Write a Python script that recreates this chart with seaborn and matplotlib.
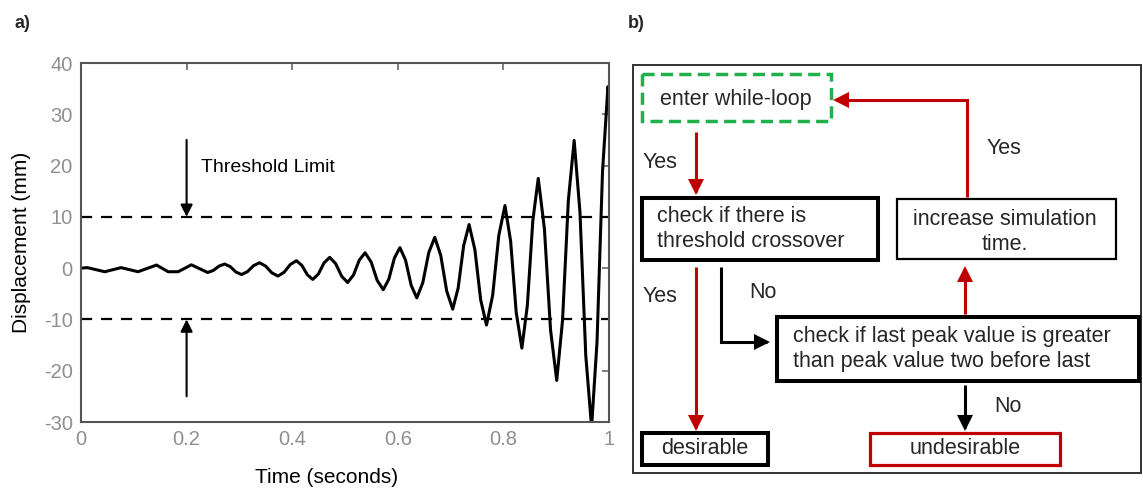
import matplotlib
matplotlib.use("Agg")
import matplotlib.pyplot as plt
import seaborn as sns
import pandas as pd
from matplotlib.patches import Rectangle, FancyArrowPatch
from matplotlib.path import Path

# ---------------- data ----------------
time_s = [0.0, 0.012, 0.045, 0.076, 0.108, 0.143, 0.165, 0.184, 0.209, 0.240,
          0.2507, 0.2613, 0.272, 0.2827, 0.2933, 0.304, 0.3153, 0.3267, 0.338,
          0.3497, 0.3613, 0.373, 0.3847, 0.3963, 0.408, 0.4183, 0.4287, 0.439,
          0.4497, 0.4603, 0.471, 0.4823, 0.4937, 0.505, 0.516, 0.527, 0.538,
          0.5495, 0.561, 0.5725, 0.583, 0.5935, 0.604, 0.6147, 0.6253, 0.636,
          0.6473, 0.6587, 0.670, 0.6813, 0.6927, 0.704, 0.7143, 0.7247, 0.735,
          0.746, 0.757, 0.768, 0.7797, 0.7913, 0.803, 0.8137, 0.8243, 0.835,
          0.8453, 0.8557, 0.866, 0.8777, 0.8893, 0.901, 0.912, 0.923, 0.934,
          0.945, 0.956, 0.967, 0.9773, 0.9877, 0.998, 1.0]
displacement_mm = [0.0, 0.1, -0.7, 0.1, -0.7, 0.6, -0.7, -0.7, 0.65, -0.85,
                   -0.44, 0.39, 0.8, 0.29, -0.74, -1.25, -0.68, 0.48, 1.05,
                   0.40, -0.90, -1.55, -0.80, 0.70, 1.45, 0.54, -1.29, -2.2,
                   -1.13, 1.03, 2.1, 0.88, -1.58, -2.8, -1.35, 1.55, 3.0,
                   1.2, -2.4, -4.2, -2.15, 1.95, 4.0, 1.55, -3.35, -5.8,
                   -2.85, 3.05, 6.0, 2.5, -4.5, -8.0, -3.88, 4.38, 8.5,
                   3.6, -6.2, -11.1, -5.28, 6.38, 12.2, 5.25, -8.65, -15.6,
                   -7.33, 9.23, 17.5, 7.65, -12.05, -21.9, -10.2, 13.2, 24.9,
                   10.93, -17.03, -31.0, -14.4, 18.8, 35.4, 33.5]
threshold_levels = [10, -10]
x_ticks = [0, 0.2, 0.4, 0.6, 0.8, 1.0]
x_tick_labels = ["0", "0.2", "0.4", "0.6", "0.8", "1"]
y_ticks = [-30, -20, -10, 0, 10, 20, 30, 40]
y_tick_labels = ["-30", "-20", "-10", "0", "10", "20", "30", "40"]

# ---------------- style ----------------
sns.set_theme(style="white")
plt.rcParams["font.family"] = ["Liberation Sans", "DejaVu Sans"]

W, H = 1143, 488
fig = plt.figure(figsize=(W / 100, H / 100), dpi=100)

def fig_rect(x0, y0, x1, y1):
    return [x0 / W, 1 - y1 / H, (x1 - x0) / W, (y1 - y0) / H]

# ---------------- panel a ----------------
ax = fig.add_axes(fig_rect(81, 63, 609, 422))
df = pd.DataFrame({"t": time_s, "d": displacement_mm})
sns.lineplot(data=df, x="t", y="d", ax=ax, color="black", lw=2.2,
             solid_joinstyle="round")
for lvl in threshold_levels:
    ax.axhline(lvl, color="black", lw=1.6, ls=(0, (5, 4)))

ax.set_xlim(0, 1)
ax.set_ylim(-30, 40)
ax.set_xticks(x_ticks)
ax.set_xticklabels(x_tick_labels)
ax.set_yticks(y_ticks)
ax.set_yticklabels(y_tick_labels)
ax.tick_params(direction="in", length=5, width=1.2, color="#666666",
               labelcolor="#8f8f8f", labelsize=14.5, top=True, right=True,
               pad=6)
for s in ax.spines.values():
    s.set_color("#555555")
    s.set_linewidth(1.5)
ax.set_xlabel("Time (seconds)", fontsize=15, color="black")
ax.set_ylabel("Displacement (mm)", fontsize=15, color="black")
ax.xaxis.set_label_coords((327 - 81) / 528, -0.128)
ax.yaxis.set_label_coords(-0.095, 0.5)

arrow_kw = dict(arrowstyle="-|>", color="black", lw=1.5, mutation_scale=18,
                shrinkA=0, shrinkB=0)
ax.annotate("", xy=(0.2, 10), xytext=(0.2, 25), arrowprops=arrow_kw)
ax.annotate("", xy=(0.2, -10), xytext=(0.2, -25), arrowprops=arrow_kw)
ax.text(0.228, 19.6, "Threshold Limit", fontsize=14, va="center", ha="left",
        color="black")

# ---------------- overlay (labels + flowchart) ----------------
fc = fig.add_axes([0, 0, 1, 1])
fc.set_xlim(0, W)
fc.set_ylim(H, 0)
fc.axis("off")
fc.patch.set_alpha(0)

fc.text(22, 23, "a)", fontsize=13, fontweight="bold", ha="center", va="center")
fc.text(636, 23, "b)", fontsize=13, fontweight="bold", ha="center", va="center")

RED = "#c00000"
GREEN = "#22b04c"

# outer frame
fc.add_patch(Rectangle((633, 65), 1141 - 633, 473 - 65, fill=False,
                       ec="#333333", lw=1.4))

def box(x0, y0, x1, y1, ec="black", lw=2.9, ls="-"):
    fc.add_patch(Rectangle((x0, y0), x1 - x0, y1 - y0, fill=False, ec=ec,
                           lw=lw, ls=ls, joinstyle="miter"))

box(642, 74, 831, 121, ec=GREEN, lw=2.5, ls=(0, (3.5, 1.8)))
box(642, 198, 878, 260)
box(897, 199, 1116, 259, lw=1.6)
box(777, 317, 1139, 381)
box(642, 433, 768, 465)
box(870, 433, 1060, 465, ec=RED, lw=2.3)

TS = 15.5
fc.text(736, 99, "enter while-loop", fontsize=TS, ha="center", va="center")
fc.text(657, 229, "check if there is\nthreshold crossover", fontsize=TS,
        ha="left", va="center", linespacing=1.2)
fc.text(1005, 232, "increase simulation\ntime.", fontsize=TS, ha="center",
        va="center", linespacing=1.2, multialignment="center")
fc.text(793, 349, "check if last peak value is greater\nthan peak value two before last",
        fontsize=TS, ha="left", va="center", linespacing=1.2)
fc.text(705, 449, "desirable", fontsize=TS, ha="center", va="center")
fc.text(965, 449, "undesirable", fontsize=TS, ha="center", va="center")

def path_arrow(points, color):
    codes = [Path.MOVETO] + [Path.LINETO] * (len(points) - 1)
    p = FancyArrowPatch(path=Path(points, codes), arrowstyle="-|>",
                        color=color, lw=2.2, mutation_scale=20,
                        shrinkA=0, shrinkB=0, joinstyle="miter",
                        capstyle="butt")
    fc.add_patch(p)

# enter -> check crossover
path_arrow([(696, 132), (696, 195)], RED)
fc.text(660, 163, "Yes", fontsize=TS, ha="center", va="center")
# increase time -> enter loop
path_arrow([(967, 197), (967, 100), (833, 100)], RED)
fc.text(1004, 148, "Yes", fontsize=TS, ha="center", va="center")
# crossover -> desirable
path_arrow([(696, 267), (696, 431)], RED)
fc.text(660, 297, "Yes", fontsize=TS, ha="center", va="center")
# crossover -> check peak
path_arrow([(721, 267), (721, 342), (770, 342)], "black")
fc.text(763, 293, "No", fontsize=TS, ha="center", va="center")
# check peak -> increase time
path_arrow([(965, 314), (965, 266)], RED)
# check peak -> undesirable
path_arrow([(965, 385), (965, 431)], "black")
fc.text(1008, 406, "No", fontsize=TS, ha="center", va="center")

fig.savefig("out.png", dpi=100)
